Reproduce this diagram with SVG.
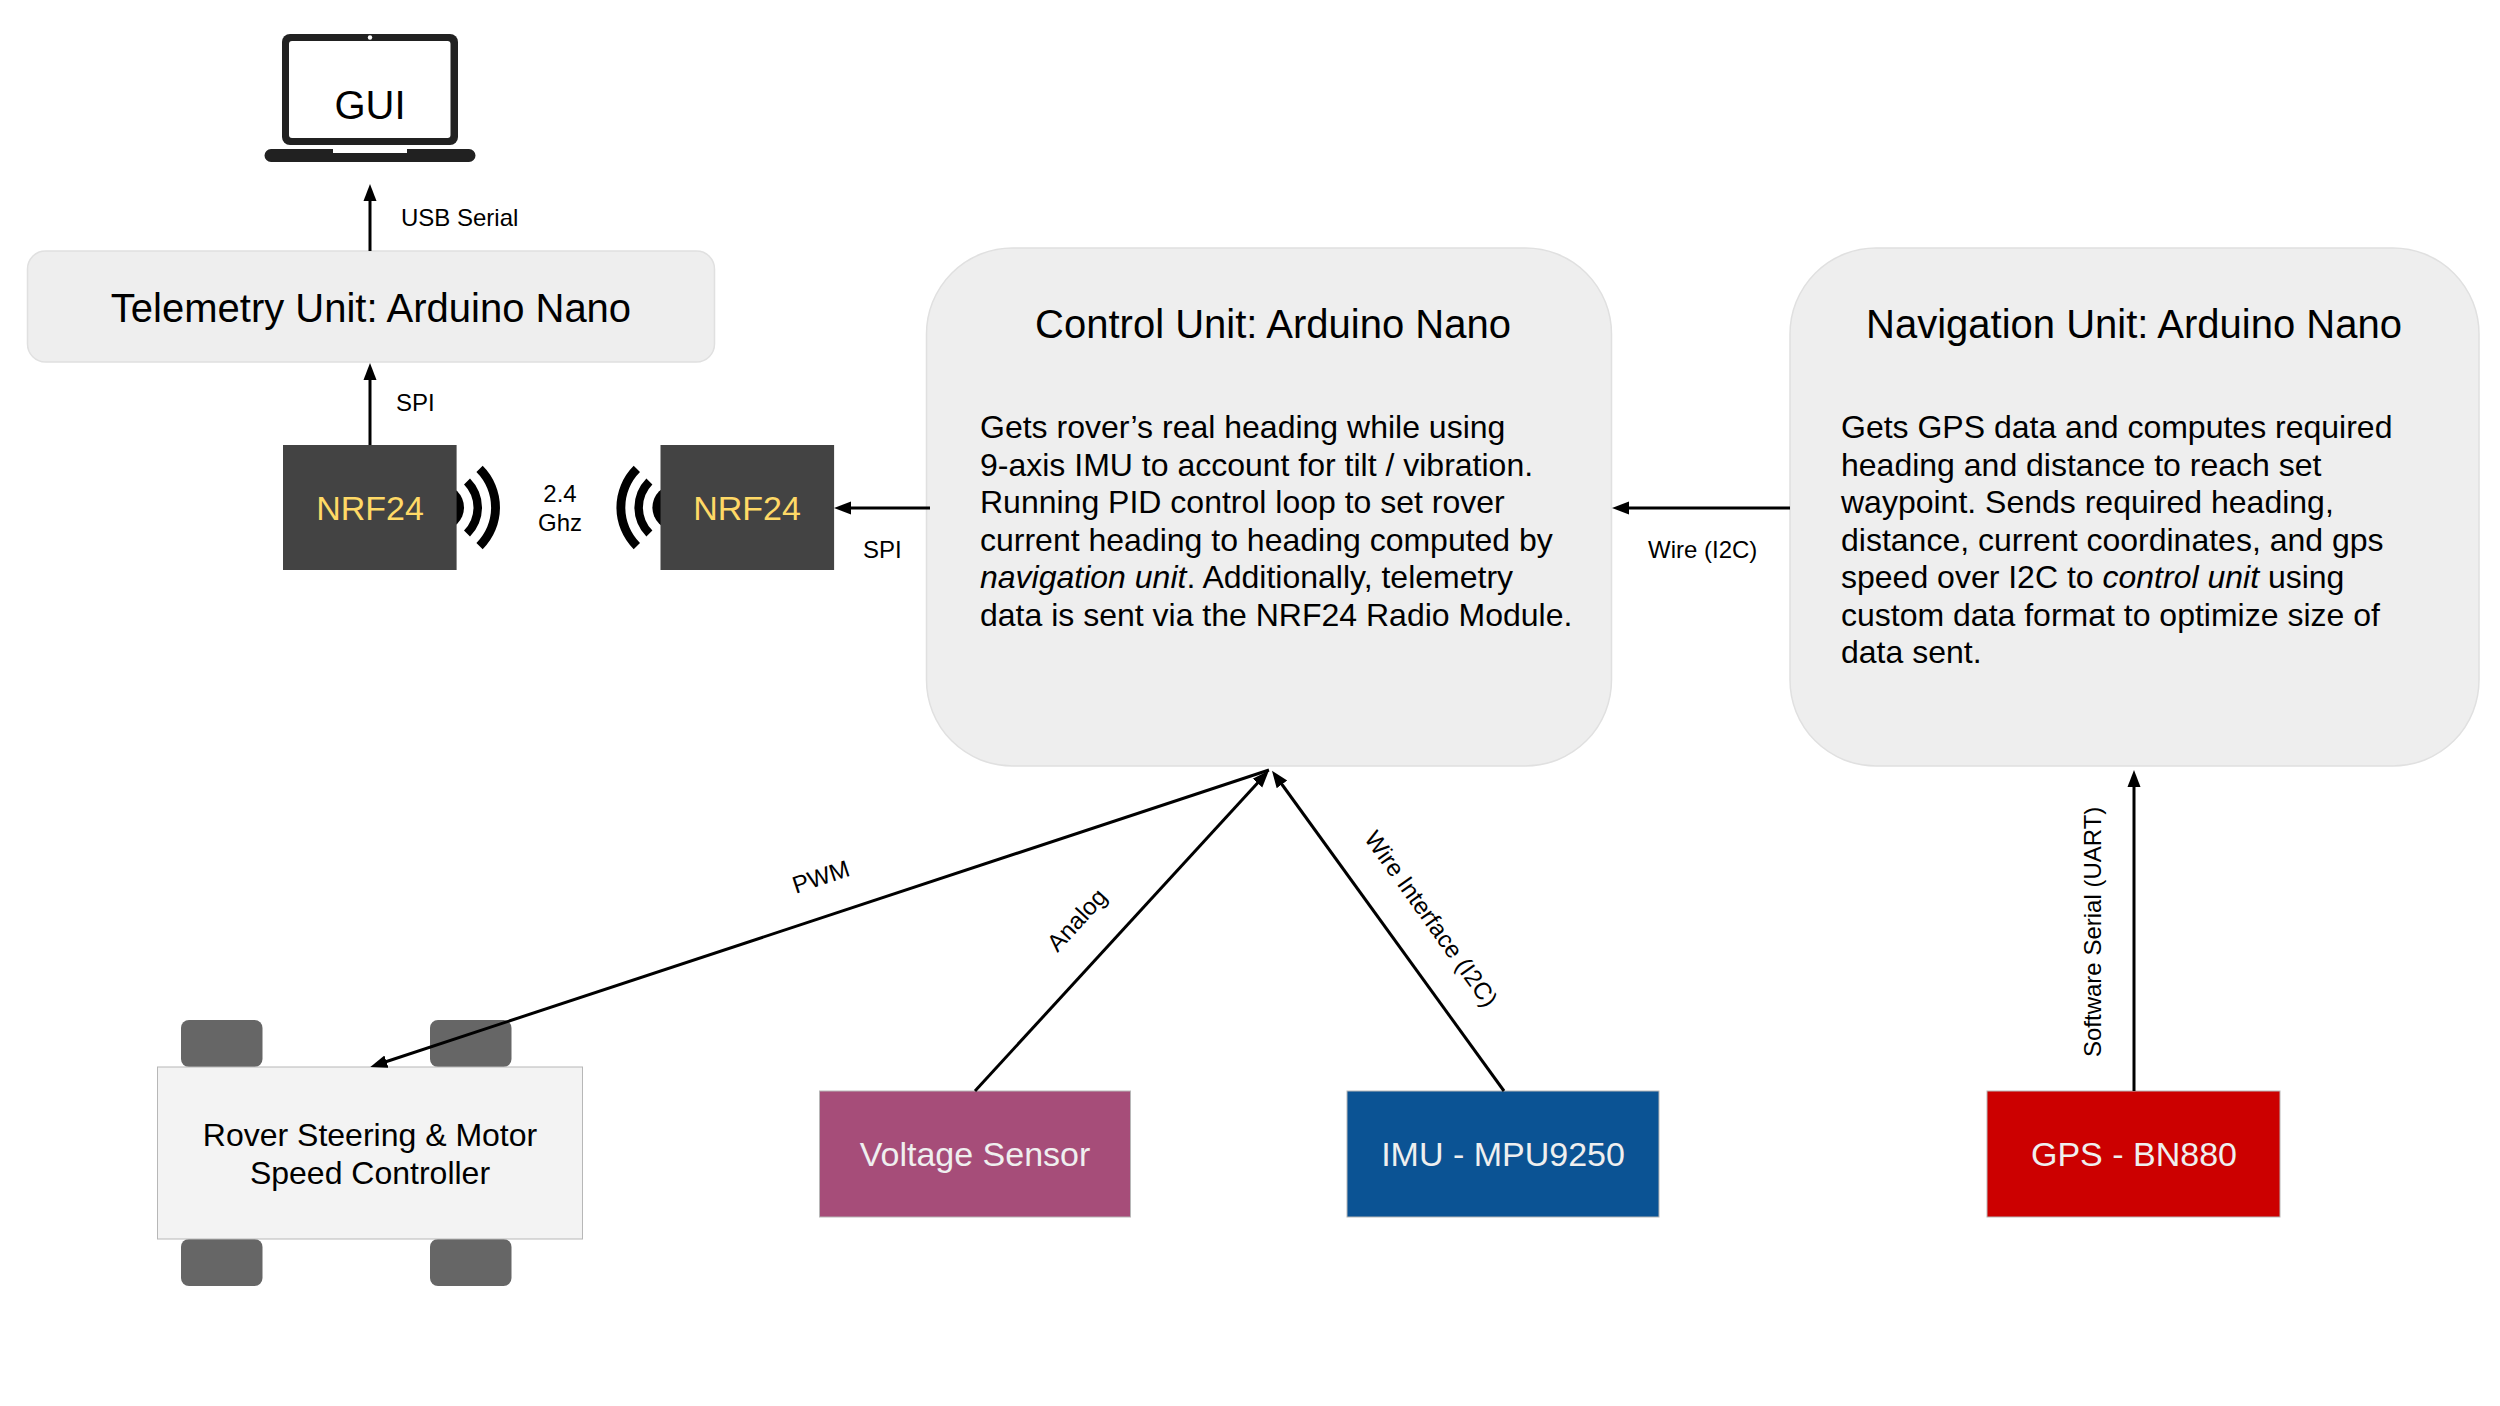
<svg xmlns="http://www.w3.org/2000/svg" width="2500" height="1406" viewBox="0 0 2500 1406">
<style>
text{font-family:"Liberation Sans",Arial,sans-serif;fill:#000}
.unit{fill:#eeeeee;stroke:#e0e0e0;stroke-width:1.5}
.title{font-size:40px;text-anchor:middle}
.body{font-size:32px}
.lbl{font-size:24px}
.ctr{text-anchor:middle}
.val{font-size:34px;text-anchor:middle;fill:#efefef}
.nrf{fill:#434343}
.wave{fill:#000}
.sq{stroke:#b7b7b7;stroke-width:1}
.wheel{fill:#666666}
.con{stroke:#000;stroke-width:3;fill:none;marker-end:url(#ah)}
</style>
<defs>
<marker id="ah" markerUnits="userSpaceOnUse" markerWidth="20" markerHeight="16" refX="11" refY="7" orient="auto"><path d="M0,0.5 L17,7 L0,13.5 Z" fill="#000"/></marker>
</defs>
<rect width="2500" height="1406" fill="#fff"/>
<g id="gui">
<rect x="282" y="34" width="176" height="111" rx="8" fill="#212121"/>
<rect x="289" y="41" width="161.5" height="97" rx="3" fill="#fff"/>
<circle cx="370" cy="37.5" r="2.2" fill="#fff"/>
<path d="M271,149 H333 V153 H407 V149 H469 a6.5,6.5 0 0 1 0,13 H271 a6.5,6.5 0 0 1 0,-13 Z" fill="#212121"/>
<text class="ctr" x="370" y="119" font-size="40">GUI</text>
</g>
<g id="telemetry">
<rect class="unit" x="27.5" y="251" width="687" height="111" rx="18"/>
<text class="title" x="371" y="322">Telemetry Unit: Arduino Nano</text>
</g>
<g id="nrf-left">
<circle class="wave" cx="441" cy="507.5" r="23"/>
<path class="wave" d="M482.7,465.8 A59,59 0 0 1 482.7,549.2 L476.4,542.9 A50,50 0 0 0 476.4,472.1 Z"/>
<path class="wave" d="M470,478.5 A41,41 0 0 1 470,536.5 L464,530.5 A32.6,32.6 0 0 0 464,484.5 Z"/>
<rect class="nrf" x="283" y="445" width="173.6" height="125"/>
<text class="val" style="fill:#ffd966" x="370" y="520">NRF24</text>
</g>
<g id="nrf-right">
<circle class="wave" cx="675.4" cy="507.5" r="23"/>
<path class="wave" d="M633.7,465.8 A59,59 0 0 0 633.7,549.2 L640,542.9 A50,50 0 0 1 640,472.1 Z"/>
<path class="wave" d="M646.4,478.5 A41,41 0 0 0 646.4,536.5 L652.4,530.5 A32.6,32.6 0 0 1 652.4,484.5 Z"/>
<rect class="nrf" x="660.5" y="445" width="173.6" height="125"/>
<text class="val" style="fill:#ffd966" x="747" y="520">NRF24</text>
</g>
<g id="control">
<rect class="unit" x="926.5" y="248" width="685" height="518" rx="86"/>
<text class="title" x="1273" y="338">Control Unit: Arduino Nano</text>
<text class="body" x="980" y="438">Gets rover’s real heading while using</text>
<text class="body" x="980" y="475.5">9-axis IMU to account for tilt / vibration.</text>
<text class="body" x="980" y="513">Running PID control loop to set rover</text>
<text class="body" x="980" y="550.5">current heading to heading computed by</text>
<text class="body" x="980" y="588"><tspan font-style="italic">navigation unit</tspan>. Additionally, telemetry</text>
<text class="body" x="980" y="625.5">data is sent via the NRF24 Radio Module.</text>
</g>
<g id="navigation">
<rect class="unit" x="1790" y="248" width="689" height="518" rx="86"/>
<text class="title" x="2134" y="338">Navigation Unit: Arduino Nano</text>
<text class="body" x="1841" y="438">Gets GPS data and computes required</text>
<text class="body" x="1841" y="475.5">heading and distance to reach set</text>
<text class="body" x="1841" y="513">waypoint. Sends required heading,</text>
<text class="body" x="1841" y="550.5">distance, current coordinates, and gps</text>
<text class="body" x="1841" y="588">speed over I2C to <tspan font-style="italic">control unit</tspan> using</text>
<text class="body" x="1841" y="625.5">custom data format to optimize size of</text>
<text class="body" x="1841" y="663">data sent.</text>
</g>
<g id="rover">
<rect class="wheel" x="181" y="1020" width="81.5" height="47" rx="8"/>
<rect class="wheel" x="430" y="1020" width="81.5" height="47" rx="8"/>
<rect class="wheel" x="181" y="1239" width="81.5" height="47" rx="8"/>
<rect class="wheel" x="430" y="1239" width="81.5" height="47" rx="8"/>
<rect class="sq" x="157.5" y="1067" width="425" height="172" fill="#f3f3f3"/>
<text class="ctr" font-size="32" x="370" y="1146">Rover Steering &amp; Motor</text>
<text class="ctr" font-size="32" x="370" y="1184">Speed Controller</text>
</g>
<g id="voltage">
<rect class="sq" x="819.5" y="1091" width="311" height="126" fill="#a64d79"/>
<text class="val" x="975" y="1166">Voltage Sensor</text>
</g>
<g id="imu">
<rect class="sq" x="1347" y="1091" width="312" height="126" fill="#0b5394"/>
<text class="val" x="1503" y="1166">IMU - MPU9250</text>
</g>
<g id="gps">
<rect class="sq" x="1987" y="1091" width="293" height="126" fill="#cc0000"/>
<text class="val" x="2134" y="1166">GPS - BN880</text>
</g>
<g id="connectors">
<line class="con" x1="370" y1="251" x2="370" y2="190"/>
<line class="con" x1="370" y1="445" x2="370" y2="369"/>
<line class="con" x1="930" y1="508" x2="840" y2="508"/>
<line class="con" x1="1790" y1="508" x2="1618" y2="508"/>
<line class="con" x1="2134" y1="1091" x2="2134" y2="776"/>
<line class="con" x1="1269" y1="770" x2="376" y2="1065"/>
<line class="con" x1="975" y1="1091" x2="1264.9" y2="775"/>
<line class="con" x1="1504" y1="1091" x2="1275.5" y2="775.5"/>
</g>
<g id="labels">
<text class="lbl" x="401" y="226">USB Serial</text>
<text class="lbl" x="396" y="411">SPI</text>
<text class="lbl ctr" x="560" y="502">2.4</text>
<text class="lbl ctr" x="560" y="531">Ghz</text>
<text class="lbl" x="863" y="558">SPI</text>
<text class="lbl" x="1648" y="558">Wire (I2C)</text>
<text class="lbl ctr" transform="translate(821,877) rotate(-18.3)" y="8">PWM</text>
<text class="lbl ctr" transform="translate(1077,920) rotate(-47.4)" y="8">Analog</text>
<text class="lbl ctr" transform="translate(1431,919) rotate(54.4)" y="8">Wire Interface (I2C)</text>
<text class="lbl" transform="translate(2101,1057) rotate(-90)">Software Serial (UART)</text>
</g>
</svg>
